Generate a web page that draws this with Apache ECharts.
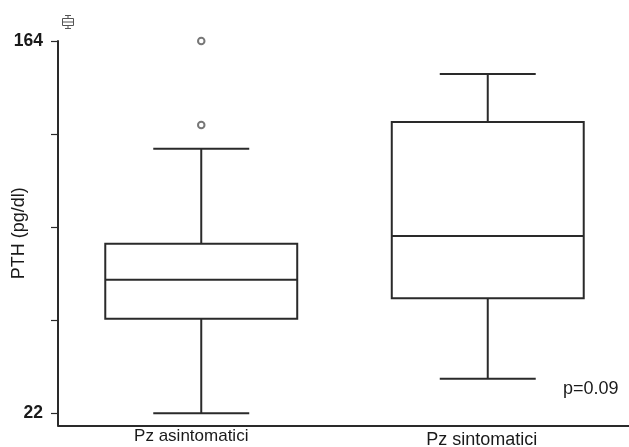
<!DOCTYPE html>
<html>
<head>
<meta charset="utf-8">
<script src="https://cdn.jsdelivr.net/npm/echarts@6/dist/echarts.min.js"></script>
<style>html,body{margin:0;padding:0;background:#fff;}#c{width:629px;height:447px;}</style>
</head>
<body>
<div id="c"></div>
<script>
// Data
const categories = ['Pz asintomatici', 'Pz sintomatici'];
// [min, Q1, median, Q3, max]
const boxAsintomatici = [22, 58.0, 72.9, 86.7, 122.9];
const boxSintomatici = [35.2, 65.9, 89.6, 133.1, 151.4];
const outliersAsintomatici = [164, 132.0];
const outliersSintomatici = [];
const yTickValues = [22, 57.5, 93, 128.5, 164];
const yLabelValues = [22, 164];
const pValueText = 'p=0.09';

const boxData = [
  [0].concat(boxAsintomatici),
  [1].concat(boxSintomatici)
];
const outlierData = outliersAsintomatici.map(v => [0, v])
  .concat(outliersSintomatici.map(v => [1, v]));

const LINE = '#2a2a2a';

const chart = echarts.init(document.getElementById('c'), null, {renderer: 'canvas'});
chart.setOption({
  backgroundColor: '#fff',
  animation: false,
  grid: {left: 58, top: 41, width: 573, bottom: 21.7, containLabel: false, outerBoundsMode: 'none'},
  xAxis: {
    type: 'category',
    data: categories,
    boundaryGap: true,
    axisLine: {show: true, lineStyle: {color: LINE, width: 2}},
    axisTick: {show: false},
    axisLabel: {
      margin: 3,
      color: '#1a1a1a',
      fontFamily: 'Liberation Sans, Arial, sans-serif',
      formatter: function (v, i) { return i === 0 ? '{a|' + v + '}' : '{b|' + v + '}'; },
      rich: {
        a: {fontSize: 17, padding: [0, 20, 0, 0], color: '#1a1a1a', fontFamily: 'Liberation Sans, Arial, sans-serif'},
        b: {fontSize: 18, padding: [3, 12, 0, 0], color: '#1a1a1a', fontFamily: 'Liberation Sans, Arial, sans-serif'}
      }
    },
    splitLine: {show: false}
  },
  yAxis: {
    type: 'value',
    min: 17.4,
    max: 164,
    name: 'PTH (pg/dl)',
    nameLocation: 'middle',
    nameGap: 30,
    nameMoveOverlap: false,
    nameTextStyle: {fontSize: 18, color: '#1a1a1a', fontFamily: 'Liberation Sans, Arial, sans-serif'},
    axisLine: {show: true, lineStyle: {color: LINE, width: 2}},
    axisTick: {show: true, length: 7, lineStyle: {color: LINE, width: 1.2}, customValues: yTickValues},
    axisLabel: {
      show: true, margin: 15, customValues: yLabelValues,
      fontSize: 17.5, fontWeight: 'bold', color: '#1a1a1a',
      fontFamily: 'Liberation Sans, Arial, sans-serif'
    },
    splitLine: {show: false}
  },
  graphic: [
    {
      type: 'group', left: 60, top: 13, silent: true,
      children: [
        {type: 'line', shape: {x1: 3, y1: 1, x2: 9, y2: 1}, style: {stroke: '#555', lineWidth: 1}},
        {type: 'line', shape: {x1: 6, y1: 1, x2: 6, y2: 4}, style: {stroke: '#555', lineWidth: 1}},
        {type: 'rect', shape: {x: 0.5, y: 4, width: 11, height: 7}, style: {stroke: '#555', fill: '#fff', lineWidth: 1}},
        {type: 'line', shape: {x1: 0.5, y1: 7.5, x2: 11.5, y2: 7.5}, style: {stroke: '#555', lineWidth: 1}},
        {type: 'line', shape: {x1: 6, y1: 11, x2: 6, y2: 14}, style: {stroke: '#555', lineWidth: 1}},
        {type: 'line', shape: {x1: 3, y1: 14, x2: 9, y2: 14}, style: {stroke: '#555', lineWidth: 1}}
      ]
    },
    {
      type: 'text', left: 563, top: 380, silent: true,
      style: {text: pValueText, fontSize: 18, fill: '#1a1a1a', fontFamily: 'Liberation Sans, Arial, sans-serif'}
    }
  ],
  series: [
    {
      type: 'custom',
      data: boxData,
      clip: false,
      encode: {x: 0, y: [1, 2, 3, 4, 5]},
      renderItem: function (params, api) {
        const c = api.value(0);
        const pMin = api.coord([c, api.value(1)]);
        const pQ1 = api.coord([c, api.value(2)]);
        const pMed = api.coord([c, api.value(3)]);
        const pQ3 = api.coord([c, api.value(4)]);
        const pMax = api.coord([c, api.value(5)]);
        const band = api.size([1, 0])[0];
        const bw = band * 0.67;
        const hw = bw / 2;
        const cw = bw / 4;
        const x = pMed[0];
        const st = {stroke: LINE, lineWidth: 2, fill: null};
        return {
          type: 'group',
          children: [
            {type: 'line', shape: {x1: x, y1: pMax[1], x2: x, y2: pQ3[1]}, style: st},
            {type: 'line', shape: {x1: x - cw, y1: pMax[1], x2: x + cw, y2: pMax[1]}, style: st},
            {type: 'line', shape: {x1: x, y1: pQ1[1], x2: x, y2: pMin[1]}, style: st},
            {type: 'line', shape: {x1: x - cw, y1: pMin[1], x2: x + cw, y2: pMin[1]}, style: st},
            {type: 'rect', shape: {x: x - hw, y: pQ3[1], width: bw, height: pQ1[1] - pQ3[1]}, style: {stroke: LINE, lineWidth: 2, fill: '#fff'}},
            {type: 'line', shape: {x1: x - hw, y1: pMed[1], x2: x + hw, y2: pMed[1]}, style: st}
          ]
        };
      }
    },
    {
      type: 'scatter',
      data: outlierData,
      clip: false,
      symbol: 'emptyCircle',
      symbolSize: 6.5,
      itemStyle: {color: '#555', borderColor: '#555', borderWidth: 1.2}
    }
  ]
});
</script>
</body>
</html>
